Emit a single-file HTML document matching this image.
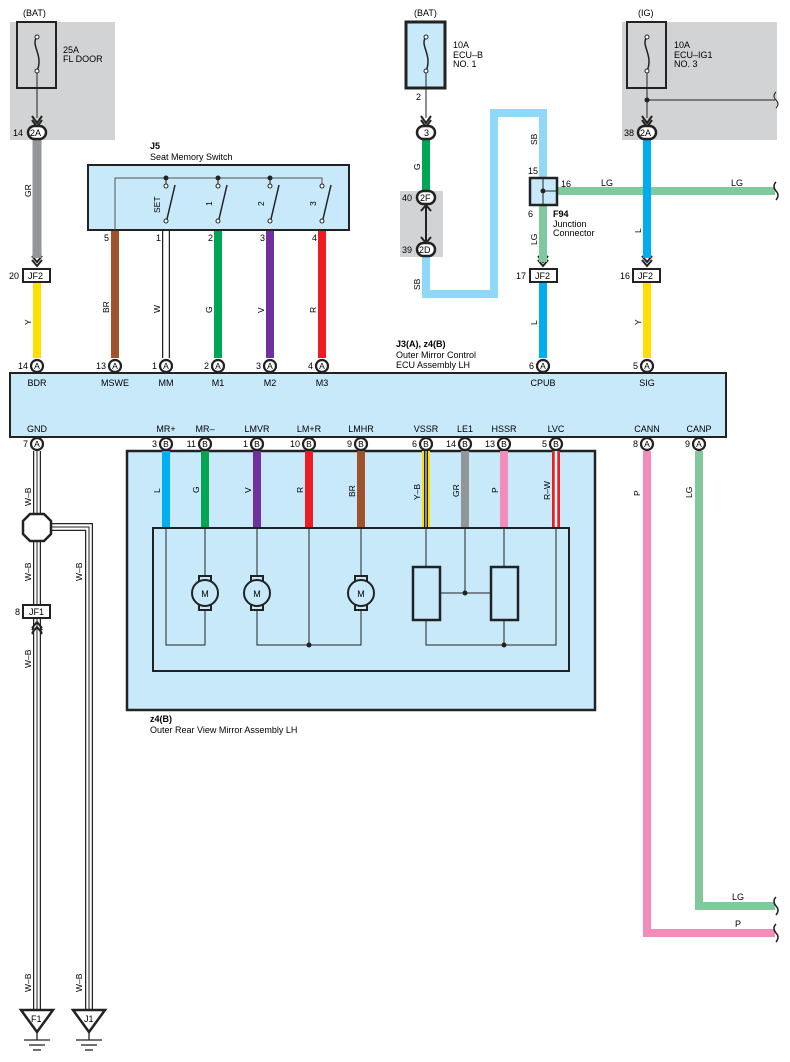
<!DOCTYPE html>
<html><head><meta charset="utf-8"><style>
body{margin:0;background:#fff}
svg{display:block;font-family:"Liberation Sans",sans-serif;font-size:9px}
.t{font-size:8.5px}
</style></head><body>
<svg width="790" height="1062" viewBox="0 0 790 1062" xmlns="http://www.w3.org/2000/svg">
<!-- gray areas -->
<rect x="10" y="22" width="105" height="118" fill="#d1d3d4"/>
<rect x="622" y="22" width="155" height="118" fill="#d1d3d4"/>
<rect x="400" y="191" width="43" height="66" fill="#d1d3d4"/>

<!-- fuses -->
<text x="23" y="16">(BAT)</text>
<rect x="17" y="22" width="39" height="66" fill="none" stroke="#222" stroke-width="2"/>
<path d="M37 37 C30 45,44 55,37 71" fill="none" stroke="#222" stroke-width="1.5"/>
<circle cx="37" cy="37" r="2" fill="#fff" stroke="#222"/><circle cx="37" cy="71" r="2" fill="#fff" stroke="#222"/>
<text x="63" y="53">25A</text><text x="63" y="62">FL DOOR</text>
<line x1="37" y1="73" x2="37" y2="118" stroke="#222"/>

<text x="414" y="16">(BAT)</text>
<rect x="406" y="22" width="39" height="66" fill="#c8e9fa" stroke="#222" stroke-width="3"/>
<path d="M426 37 C419 45,433 55,426 71" fill="none" stroke="#222" stroke-width="1.5"/>
<circle cx="426" cy="37" r="2" fill="#fff" stroke="#222"/><circle cx="426" cy="71" r="2" fill="#fff" stroke="#222"/>
<text x="453" y="48">10A</text><text x="453" y="58">ECU–B</text><text x="453" y="67">NO. 1</text>
<text x="416" y="100">2</text>
<line x1="426" y1="73" x2="426" y2="118" stroke="#222"/>

<text x="638" y="16">(IG)</text>
<rect x="627" y="22" width="39" height="66" fill="none" stroke="#222" stroke-width="2"/>
<path d="M647 37 C640 45,654 55,647 71" fill="none" stroke="#222" stroke-width="1.5"/>
<circle cx="647" cy="37" r="2" fill="#fff" stroke="#222"/><circle cx="647" cy="71" r="2" fill="#fff" stroke="#222"/>
<text x="674" y="48">10A</text><text x="674" y="58">ECU–IG1</text><text x="674" y="67">NO. 3</text>
<line x1="647" y1="73" x2="647" y2="118" stroke="#222"/>
<line x1="647" y1="100" x2="775" y2="100" stroke="#222"/>
<circle cx="647" cy="100" r="2.5" fill="#222"/>
<path d="M776 92 q-4 4 0 8 q4 4 0 8" fill="none" stroke="#222"/>

<!-- arrows into connectors -->
<g fill="none" stroke="#222" stroke-width="2">
<path d="M32 116 l5 7 l5 -7 M32 120 l5 7 l5 -7"/>
<path d="M421 116 l5 7 l5 -7 M421 120 l5 7 l5 -7"/>
<path d="M642 116 l5 7 l5 -7 M642 120 l5 7 l5 -7"/>
<path d="M32 256 l5 6 l5 -6 M32 260 l5 6 l5 -6"/>
<path d="M538 256 l5 6 l5 -6 M538 260 l5 6 l5 -6"/>
<path d="M642 256 l5 6 l5 -6 M642 260 l5 6 l5 -6"/>
<path d="M421 211 l5 -6 l5 6 M421 237 l5 6 l5 -6"/>
<path d="M32 630 l5 -6 l5 6 M32 634 l5 -6 l5 6"/>
</g>
<line x1="426" y1="205" x2="426" y2="242" stroke="#222" stroke-width="2"/>

<!-- wires top -->
<line x1="37" y1="140" x2="37" y2="258" stroke="#939598" stroke-width="9"/>
<line x1="37" y1="282" x2="37" y2="358" stroke="#ffde00" stroke-width="8"/>
<line x1="426" y1="140" x2="426" y2="190" stroke="#00a651" stroke-width="8"/>
<path d="M426 257 V294 H494 V113 H543 V178" fill="none" stroke="#8fd8f8" stroke-width="8"/>
<line x1="557" y1="191" x2="775" y2="191" stroke="#80c99c" stroke-width="8"/>
<line x1="543" y1="205" x2="543" y2="262" stroke="#80c99c" stroke-width="8"/>
<line x1="647" y1="140" x2="647" y2="258" stroke="#00aeef" stroke-width="8"/>
<path d="M776 182 q-4 4 0 9 q4 4 0 9" fill="#fff" stroke="#222" stroke-width="1.5"/>
<line x1="543" y1="282" x2="543" y2="358" stroke="#00aeef" stroke-width="8"/>
<line x1="647" y1="282" x2="647" y2="358" stroke="#ffde00" stroke-width="8"/>

<!-- junction F94 -->
<rect x="530" y="178" width="27" height="27" fill="#c8e9fa" stroke="#222" stroke-width="2.5"/>
<path d="M543 178V205M543 191H557" stroke="#222"/><circle cx="543" cy="191" r="2.5" fill="#222"/>
<text x="528" y="174">15</text><text x="561" y="187">16</text><text x="528" y="217">6</text>
<text x="601" y="186">LG</text><text x="731" y="186">LG</text>
<text x="553" y="217" font-weight="bold">F94</text><text x="553" y="227">Junction</text><text x="553" y="236">Connector</text>

<!-- JF2 boxes -->
<g fill="#fff" stroke="#222" stroke-width="2">
<rect x="23" y="269" width="27" height="13"/><rect x="530" y="269" width="27" height="13"/><rect x="633" y="269" width="27" height="13"/>
<rect x="23" y="605" width="27" height="13"/>
</g>
<text x="28" y="279">JF2</text><text x="535" y="279">JF2</text><text x="638" y="279">JF2</text><text x="29" y="615">JF1</text>
<text x="9" y="279">20</text><text x="516" y="279">17</text><text x="620" y="279">16</text><text x="15" y="615">8</text>

<!-- J5 -->
<text x="150" y="149" font-weight="bold">J5</text><text x="150" y="160">Seat Memory Switch</text>
<rect x="88" y="165" width="261" height="65" fill="#c8e9fa" stroke="#222" stroke-width="2"/>
<path d="M115 230V178H322V184" fill="none" stroke="#555"/>
<g stroke="#222" fill="#fff">
<line x1="166" y1="178" x2="166" y2="184"/><line x1="218" y1="178" x2="218" y2="184"/><line x1="270" y1="178" x2="270" y2="184"/>
<circle cx="166" cy="178" r="2" fill="#222"/><circle cx="218" cy="178" r="2" fill="#222"/><circle cx="270" cy="178" r="2" fill="#222"/>
<circle cx="166" cy="186" r="2"/><circle cx="218" cy="186" r="2"/><circle cx="270" cy="186" r="2"/><circle cx="322" cy="186" r="2"/>
<circle cx="166" cy="221" r="2"/><circle cx="218" cy="221" r="2"/><circle cx="270" cy="221" r="2"/><circle cx="322" cy="221" r="2"/>
<g stroke-width="1.5"><line x1="167" y1="219" x2="175" y2="185"/><line x1="219" y1="219" x2="227" y2="185"/><line x1="271" y1="219" x2="279" y2="185"/><line x1="323" y1="219" x2="331" y2="185"/></g>
</g>
<g class="t">
<text transform="translate(160,213) rotate(-90)">SET</text>
<text transform="translate(212,206) rotate(-90)">1</text>
<text transform="translate(264,206) rotate(-90)">2</text>
<text transform="translate(316,206) rotate(-90)">3</text>
</g>
<text x="104" y="241">5</text><text x="156" y="241">1</text><text x="208" y="241">2</text><text x="260" y="241">3</text><text x="312" y="241">4</text>
<line x1="115" y1="231" x2="115" y2="358" stroke="#a0522d" stroke-width="8"/>
<line x1="166" y1="231" x2="166" y2="358" stroke="#222" stroke-width="8"/><line x1="166" y1="231" x2="166" y2="358" stroke="#fff" stroke-width="5.5"/>
<line x1="218" y1="231" x2="218" y2="358" stroke="#00a651" stroke-width="8"/>
<line x1="270" y1="231" x2="270" y2="358" stroke="#7030a0" stroke-width="8"/>
<line x1="322" y1="231" x2="322" y2="358" stroke="#ed1c24" stroke-width="8"/>

<!-- wire labels rotated -->
<g class="t">
<text transform="translate(31,197) rotate(-90)">GR</text>
<text transform="translate(31,325) rotate(-90)">Y</text>
<text transform="translate(109,313) rotate(-90)">BR</text>
<text transform="translate(160,313) rotate(-90)">W</text>
<text transform="translate(212,313) rotate(-90)">G</text>
<text transform="translate(264,313) rotate(-90)">V</text>
<text transform="translate(316,313) rotate(-90)">R</text>
<text transform="translate(420,170) rotate(-90)">G</text>
<text transform="translate(420,290) rotate(-90)">SB</text>
<text transform="translate(537,145) rotate(-90)">SB</text>
<text transform="translate(537,245) rotate(-90)">LG</text>
<text transform="translate(537,325) rotate(-90)">L</text>
<text transform="translate(641,233) rotate(-90)">L</text>
<text transform="translate(641,325) rotate(-90)">Y</text>
<text transform="translate(640,496) rotate(-90)">P</text>
<text transform="translate(692,498) rotate(-90)">LG</text>
<text transform="translate(31,506) rotate(-90)">W–B</text>
<text transform="translate(31,581) rotate(-90)">W–B</text>
<text transform="translate(82,581) rotate(-90)">W–B</text>
<text transform="translate(31,668) rotate(-90)">W–B</text>
<text transform="translate(31,992) rotate(-90)">W–B</text>
<text transform="translate(82,992) rotate(-90)">W–B</text>
</g>

<!-- connectors top -->
<g fill="#fff" stroke="#222" stroke-width="2.5">
<rect x="28" y="126" width="18" height="13" rx="6.5"/>
<rect x="417" y="126" width="18" height="13" rx="6.5"/>
<rect x="638" y="126" width="18" height="13" rx="6.5"/>
<rect x="417" y="191" width="18" height="13" rx="6.5"/>
<rect x="417" y="243" width="18" height="13" rx="6.5"/>
</g>
<text x="30" y="136">2A</text><text x="424" y="136">3</text><text x="640" y="136">2A</text><text x="420" y="201">2F</text><text x="419" y="253">2D</text>
<text x="13" y="136">14</text><text x="624" y="136">38</text><text x="402" y="201">40</text><text x="402" y="253">39</text>

<!-- ECU -->
<text x="396" y="347" font-weight="bold">J3(A), z4(B)</text>
<text x="396" y="358">Outer Mirror Control</text>
<text x="396" y="368">ECU Assembly LH</text>
<rect x="10" y="373" width="716" height="64" fill="#c8e9fa" stroke="#222" stroke-width="2"/>
<g text-anchor="middle">
<text x="37" y="386">BDR</text><text x="115" y="386">MSWE</text><text x="166" y="386">MM</text><text x="218" y="386">M1</text><text x="270" y="386">M2</text><text x="322" y="386">M3</text><text x="543" y="386">CPUB</text><text x="647" y="386">SIG</text>
<text x="37" y="432">GND</text><text x="166" y="432">MR+</text><text x="205" y="432">MR–</text><text x="257" y="432">LMVR</text><text x="309" y="432">LM+R</text><text x="361" y="432">LMHR</text><text x="426" y="432">VSSR</text><text x="465" y="432">LE1</text><text x="504" y="432">HSSR</text><text x="556" y="432">LVC</text><text x="647" y="432">CANN</text><text x="699" y="432">CANP</text>
</g>
<g fill="#fff" stroke="#222" stroke-width="2.2">
<circle cx="37" cy="366" r="6"/><circle cx="115" cy="366" r="6"/><circle cx="166" cy="366" r="6"/><circle cx="218" cy="366" r="6"/><circle cx="270" cy="366" r="6"/><circle cx="322" cy="366" r="6"/><circle cx="543" cy="366" r="6"/><circle cx="647" cy="366" r="6"/>
</g>
<g text-anchor="middle" class="t">
<text x="37" y="369">A</text><text x="115" y="369">A</text><text x="166" y="369">A</text><text x="218" y="369">A</text><text x="270" y="369">A</text><text x="322" y="369">A</text><text x="543" y="369">A</text><text x="647" y="369">A</text>
</g>
<g text-anchor="end">
<text x="28" y="369">14</text><text x="106" y="369">13</text><text x="157" y="369">1</text><text x="209" y="369">2</text><text x="261" y="369">3</text><text x="313" y="369">4</text><text x="534" y="369">6</text><text x="638" y="369">5</text>
</g>

<!-- mirror assembly -->
<rect x="127" y="451" width="468" height="259" fill="#c8e9fa" stroke="#222" stroke-width="2.5"/>
<line x1="166" y1="451" x2="166" y2="528" stroke="#00aeef" stroke-width="8"/>
<line x1="205" y1="451" x2="205" y2="528" stroke="#00a651" stroke-width="8"/>
<line x1="257" y1="451" x2="257" y2="528" stroke="#7030a0" stroke-width="8"/>
<line x1="309" y1="451" x2="309" y2="528" stroke="#ed1c24" stroke-width="8"/>
<line x1="361" y1="451" x2="361" y2="528" stroke="#a0522d" stroke-width="8"/>
<line x1="426" y1="451" x2="426" y2="528" stroke="#ffde00" stroke-width="8"/><line x1="426" y1="451" x2="426" y2="528" stroke="#222" stroke-width="4"/><line x1="426" y1="451" x2="426" y2="528" stroke="#fff" stroke-width="2"/><line x1="426" y1="451" x2="426" y2="528" stroke="#222" stroke-width="1"/>
<line x1="465" y1="451" x2="465" y2="528" stroke="#939598" stroke-width="8"/>
<line x1="504" y1="451" x2="504" y2="528" stroke="#f38bbb" stroke-width="8"/>
<line x1="556" y1="451" x2="556" y2="528" stroke="#ed1c24" stroke-width="8"/><line x1="556" y1="451" x2="556" y2="528" stroke="#fff" stroke-width="2.5"/>
<g class="t">
<text transform="translate(160,493) rotate(-90)">L</text>
<text transform="translate(199,493) rotate(-90)">G</text>
<text transform="translate(251,493) rotate(-90)">V</text>
<text transform="translate(303,493) rotate(-90)">R</text>
<text transform="translate(355,497) rotate(-90)">BR</text>
<text transform="translate(420,500) rotate(-90)">Y–B</text>
<text transform="translate(459,497) rotate(-90)">GR</text>
<text transform="translate(498,493) rotate(-90)">P</text>
<text transform="translate(550,500) rotate(-90)">R–W</text>
</g>
<rect x="153" y="528" width="416" height="143" fill="none" stroke="#222" stroke-width="2"/>
<g fill="none" stroke="#222" stroke-width="1">
<path d="M166 528V645H205V608M205 528V578"/>
<path d="M257 528V578M257 608V645H361V608M361 528V578M309 528V645"/>
<path d="M426 528V567M504 528V567M465 528V593M440 593H491M426 620V645H556V528M504 620V645"/>
</g>
<circle cx="309" cy="645" r="2.5" fill="#222"/><circle cx="465" cy="593" r="2.5" fill="#222"/><circle cx="504" cy="645" r="2.5" fill="#222"/>
<g fill="#c8e9fa" stroke="#222" stroke-width="2">
<rect x="199" y="576" width="12" height="5"/><rect x="199" y="605" width="12" height="5"/><circle cx="205" cy="593" r="13"/>
<rect x="251" y="576" width="12" height="5"/><rect x="251" y="605" width="12" height="5"/><circle cx="257" cy="593" r="13"/>
<rect x="355" y="576" width="12" height="5"/><rect x="355" y="605" width="12" height="5"/><circle cx="361" cy="593" r="13"/>
</g>
<g fill="#c8e9fa" stroke="#222" stroke-width="2.5"><rect x="413" y="567" width="27" height="53"/><rect x="491" y="567" width="27" height="53"/></g>
<g text-anchor="middle"><text x="205" y="597">M</text><text x="257" y="597">M</text><text x="361" y="597">M</text></g>
<text x="150" y="722" font-weight="bold">z4(B)</text><text x="150" y="733">Outer Rear View Mirror Assembly LH</text>

<!-- CAN wires -->
<path d="M647 451V933H775" fill="none" stroke="#f38bbb" stroke-width="8"/>
<path d="M699 451V906H775" fill="none" stroke="#80c99c" stroke-width="8"/>
<path d="M776 897 q-4 4 0 9 q4 4 0 9" fill="#fff" stroke="#222" stroke-width="1.5"/>
<path d="M776 924 q-4 4 0 9 q4 4 0 9" fill="#fff" stroke="#222" stroke-width="1.5"/>
<text x="732" y="900">LG</text><text x="735" y="927">P</text>

<!-- GND wires -->
<g fill="none">
<path d="M37 451V1012" stroke="#222" stroke-width="8"/><path d="M37 451V1012" stroke="#fff" stroke-width="5.5"/><path d="M37 451V1012" stroke="#222" stroke-width="1"/>
<path d="M50 527H89V1012" stroke="#222" stroke-width="8"/><path d="M50 527H89V1012" stroke="#fff" stroke-width="5.5"/><path d="M50 527H89V1012" stroke="#222" stroke-width="1"/>
</g>
<polygon points="30,514 44,514 51,521 51,534 44,541 30,541 23,534 23,521" fill="#fff" stroke="#222" stroke-width="2.5"/>
<rect x="23" y="605" width="27" height="13" fill="#fff" stroke="#222" stroke-width="2"/><text x="29" y="615">JF1</text>
<path d="M32 628 l5 -6 l5 6 M32 633 l5 -6 l5 6" fill="none" stroke="#222" stroke-width="2"/>
<!-- bottom grounds -->
<g fill="#fff" stroke="#222" stroke-width="2.5">
<polygon points="21,1010 53,1010 37,1032"/><polygon points="73,1010 105,1010 89,1032"/>
</g>
<text x="31" y="1022">F1</text><text x="84" y="1022">J1</text>
<g stroke="#222" stroke-width="1.3">
<line x1="37" y1="1032" x2="37" y2="1040"/><line x1="24" y1="1040" x2="50" y2="1040"/><line x1="29" y1="1045" x2="45" y2="1045"/><line x1="33" y1="1050" x2="41" y2="1050"/>
<line x1="89" y1="1032" x2="89" y2="1040"/><line x1="76" y1="1040" x2="102" y2="1040"/><line x1="81" y1="1045" x2="97" y2="1045"/><line x1="85" y1="1050" x2="93" y2="1050"/>
</g>

<!-- bottom pins -->
<g fill="#fff" stroke="#222" stroke-width="2.2">
<circle cx="37" cy="444" r="6"/><circle cx="166" cy="444" r="6"/><circle cx="205" cy="444" r="6"/><circle cx="257" cy="444" r="6"/><circle cx="309" cy="444" r="6"/><circle cx="361" cy="444" r="6"/><circle cx="426" cy="444" r="6"/><circle cx="465" cy="444" r="6"/><circle cx="504" cy="444" r="6"/><circle cx="556" cy="444" r="6"/><circle cx="647" cy="444" r="6"/><circle cx="699" cy="444" r="6"/>
</g>
<g text-anchor="middle" class="t">
<text x="37" y="447">A</text><text x="166" y="447">B</text><text x="205" y="447">B</text><text x="257" y="447">B</text><text x="309" y="447">B</text><text x="361" y="447">B</text><text x="426" y="447">B</text><text x="465" y="447">B</text><text x="504" y="447">B</text><text x="556" y="447">B</text><text x="647" y="447">A</text><text x="699" y="447">A</text>
</g>
<g text-anchor="end">
<text x="28" y="447">7</text><text x="157" y="447">3</text><text x="196" y="447">11</text><text x="248" y="447">1</text><text x="300" y="447">10</text><text x="352" y="447">9</text><text x="417" y="447">6</text><text x="456" y="447">14</text><text x="495" y="447">13</text><text x="547" y="447">5</text><text x="638" y="447">8</text><text x="690" y="447">9</text>
</g>
</svg>
</body></html>
